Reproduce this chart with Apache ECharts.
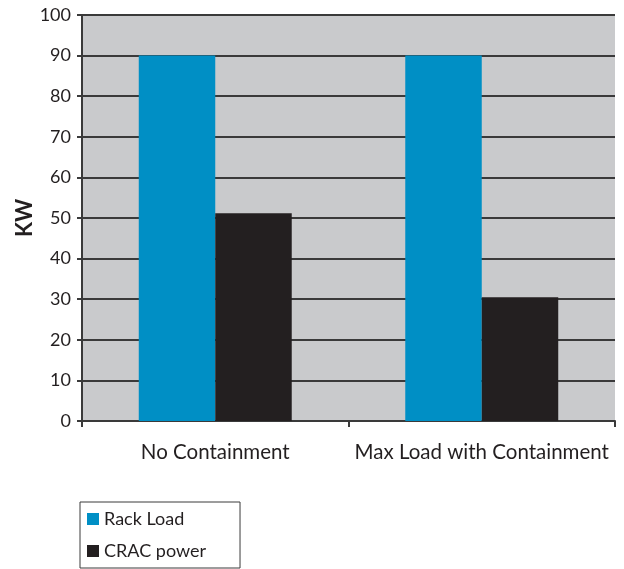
<!DOCTYPE html>
<html>
<head>
<meta charset="utf-8">
<script src="https://cdn.jsdelivr.net/npm/echarts@6/dist/echarts.min.js"></script>
<style>
  html, body { margin: 0; padding: 0; background: #ffffff; }
  #chart { width: 624px; height: 569px; }
</style>
</head>
<body>
<div id="chart"></div>
<script>
// Power draw per scenario
const categories = ['No Containment', 'Max Load with Containment'];
const rackLoad = [90, 90];
const cracPower = [51.2, 30.5];
const yTicks = { min: 0, max: 100, interval: 10 };

const FONT = 'Lato, "Open Sans", sans-serif';
const chart = echarts.init(document.getElementById('chart'), null, { renderer: 'canvas' });

chart.setOption({
  animation: false,
  backgroundColor: '#ffffff',
  grid: {
    left: 82, right: 9, top: 15, bottom: 148,
    outerBoundsMode: 'none',
    show: true, backgroundColor: '#c9cacc', borderWidth: 0
  },
  legend: {
    orient: 'vertical',
    left: 80, top: 502,
    itemWidth: 12, itemHeight: 12, itemGap: 12,
    padding: [7, 34, 7, 7],
    borderColor: '#3a3a3a', borderWidth: 1,
    icon: 'rect',
    textStyle: { fontFamily: FONT, fontSize: 18, color: '#231f20', lineHeight: 20 },
    data: ['Rack Load', 'CRAC power']
  },
  xAxis: {
    type: 'category',
    data: categories,
    axisLine: { show: true, lineStyle: { color: '#3a3a3a', width: 2 } },
    axisTick: { show: true, length: 6, lineStyle: { color: '#3a3a3a', width: 2 } },
    axisLabel: { interval: 0, fontFamily: FONT, fontSize: 20.5, color: '#231f20', margin: 21 }
  },
  yAxis: {
    type: 'value',
    min: yTicks.min, max: yTicks.max, interval: yTicks.interval,
    name: 'KW',
    nameLocation: 'middle',
    nameGap: 46,
    nameMoveOverlap: false,
    nameTextStyle: { fontFamily: FONT, fontSize: 22, fontWeight: 'bold', color: '#231f20' },
    axisLine: { show: true, lineStyle: { color: '#3a3a3a', width: 2 } },
    axisTick: { show: true, length: 5, lineStyle: { color: '#3a3a3a', width: 2 } },
    axisLabel: { fontFamily: FONT, fontSize: 18, color: '#231f20', margin: 11 },
    splitLine: { show: true, lineStyle: { color: '#3a3a3a', width: 2 } }
  },
  series: [
    {
      name: 'Rack Load', type: 'bar', data: rackLoad,
      barWidth: '28.7%', barGap: '0%',
      itemStyle: { color: '#008fc5' }
    },
    {
      name: 'CRAC power', type: 'bar', data: cracPower,
      barWidth: '28.7%', barGap: '0%',
      itemStyle: { color: '#231f20' }
    }
  ]
});
</script>
</body>
</html>
